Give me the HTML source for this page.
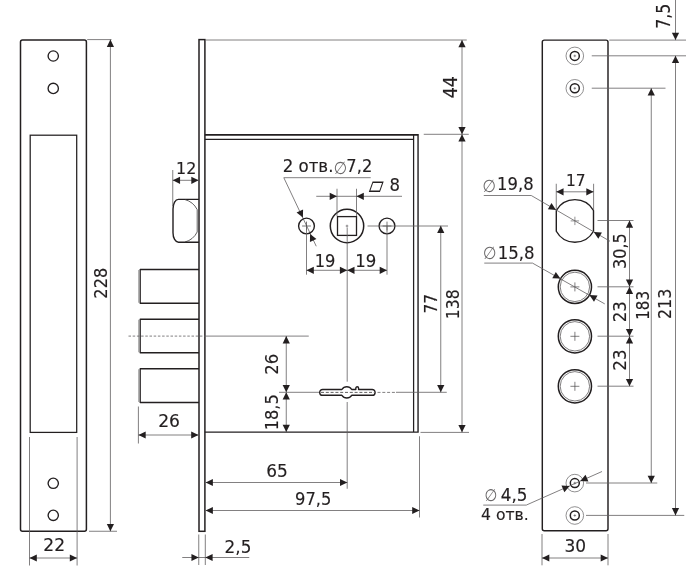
<!DOCTYPE html>
<html lang="ru">
<head>
<meta charset="utf-8">
<title>Схема замка</title>
<style>
html,body{margin:0;padding:0;background:#fff;}
body{width:691px;height:587px;overflow:hidden;}
svg{display:block;will-change:transform;}
svg text{font-family:'DejaVu Sans', 'Liberation Sans', sans-serif;fill:#231f20;stroke:#231f20;stroke-width:0.15px;}
svg text.w{font-family:'DejaVu Sans','Liberation Sans',sans-serif;}
svg text.s{font-family:'DejaVu Sans','Liberation Sans',sans-serif;stroke:none;}
</style>
</head>
<body>
<svg width="691" height="587" viewBox="0 0 691 587">
<rect x="0" y="0" width="691" height="587" fill="#ffffff"/>
<rect x="20.5" y="40" width="65.9" height="491.2" rx="2" fill="none" stroke="#231f20" stroke-width="1.5"/>
<rect x="30.2" y="135.2" width="46.5" height="297.2" rx="0" fill="none" stroke="#231f20" stroke-width="1.25"/>
<circle cx="53.25" cy="56" r="5.15" fill="none" stroke="#231f20" stroke-width="1.35"/>
<circle cx="53.25" cy="88.4" r="5.15" fill="none" stroke="#231f20" stroke-width="1.35"/>
<circle cx="53.25" cy="483.3" r="5.15" fill="none" stroke="#231f20" stroke-width="1.35"/>
<circle cx="53.25" cy="515.3" r="5.15" fill="none" stroke="#231f20" stroke-width="1.35"/>
<line x1="29.5" y1="437" x2="29.5" y2="565.5" stroke="#626061" stroke-width="0.8"/>
<line x1="77.1" y1="437" x2="77.1" y2="565.5" stroke="#626061" stroke-width="0.8"/>
<line x1="29.5" y1="558" x2="77.1" y2="558" stroke="#626061" stroke-width="0.8"/>
<polygon points="29.50,558.00 36.80,554.40 36.80,561.60" fill="#231f20"/>
<polygon points="77.10,558.00 69.80,561.60 69.80,554.40" fill="#231f20"/>
<text transform="translate(43.29 551.00) scale(0.9408 1)" font-size="18.2">22</text>
<line x1="87.2" y1="39.6" x2="111.5" y2="39.6" stroke="#626061" stroke-width="0.8"/>
<line x1="89" y1="531.25" x2="117" y2="531.25" stroke="#626061" stroke-width="0.8"/>
<line x1="110.4" y1="39.6" x2="110.4" y2="531.2" stroke="#626061" stroke-width="0.8"/>
<polygon points="110.40,39.60 114.00,46.90 106.80,46.90" fill="#231f20"/>
<polygon points="110.40,531.20 106.80,523.90 114.00,523.90" fill="#231f20"/>
<text transform="translate(107.20 298.64) rotate(-90) scale(0.8878 1)" font-size="18.2">228</text>
<rect x="199" y="39.6" width="5.9" height="491.7" rx="0" fill="none" stroke="#231f20" stroke-width="1.5"/>
<path d="M204.9 134.85 H418.05" fill="none" stroke="#231f20" stroke-width="1.7" stroke-linejoin="miter"/>
<path d="M418.05 134 V432.1 H204.9" fill="none" stroke="#231f20" stroke-width="1.4" stroke-linejoin="miter"/>
<path d="M204.9 139.3 H413.6 M413.6 134.85 V432.1" fill="none" stroke="#231f20" stroke-width="1.25" stroke-linejoin="miter"/>
<path d="M199 199.4 H178.4 A5.4 9.5 0 0 0 173 208.9 V232.7 A5.4 9.5 0 0 0 178.4 242.2 H199" fill="none" stroke="#231f20" stroke-width="1.4" stroke-linejoin="round"/>
<path d="M185 199.6 Q193.2 201.8 197.2 209.6 V232 Q193.2 239.8 185 242" fill="none" stroke="#3a3839" stroke-width="0.8" stroke-linejoin="round"/>
<path d="M199 269.5 H140.2 V303.25 H199" fill="none" stroke="#231f20" stroke-width="1.3" stroke-linejoin="round"/>
<line x1="138.7" y1="270.0" x2="138.7" y2="302.75" stroke="#777" stroke-width="0.7"/>
<path d="M199 319.25 H140.2 V352.75 H199" fill="none" stroke="#231f20" stroke-width="1.3" stroke-linejoin="round"/>
<line x1="138.7" y1="319.75" x2="138.7" y2="352.25" stroke="#777" stroke-width="0.7"/>
<path d="M199 368.75 H140.2 V402.5 H199" fill="none" stroke="#231f20" stroke-width="1.3" stroke-linejoin="round"/>
<line x1="138.7" y1="369.25" x2="138.7" y2="402.0" stroke="#777" stroke-width="0.7"/>
<line x1="128.5" y1="336.1" x2="204.9" y2="336.1" stroke="#626061" stroke-width="0.8" stroke-dasharray="2.5 1.7"/>
<line x1="204.9" y1="336.1" x2="308.75" y2="336.1" stroke="#626061" stroke-width="0.8"/>
<line x1="172.75" y1="170" x2="172.75" y2="206" stroke="#626061" stroke-width="0.8"/>
<line x1="172.75" y1="180.3" x2="198.6" y2="180.3" stroke="#626061" stroke-width="0.8"/>
<polygon points="172.75,180.30 180.05,176.70 180.05,183.90" fill="#231f20"/>
<polygon points="198.60,180.30 191.30,183.90 191.30,176.70" fill="#231f20"/>
<text transform="translate(176.08 174.00) scale(0.9634 1)" font-size="16.5">12</text>
<line x1="138.4" y1="406.5" x2="138.4" y2="443.5" stroke="#626061" stroke-width="0.8"/>
<line x1="138.4" y1="435" x2="198.5" y2="435" stroke="#626061" stroke-width="0.8"/>
<polygon points="138.40,435.00 145.70,431.40 145.70,438.60" fill="#231f20"/>
<polygon points="198.50,435.00 191.20,438.60 191.20,431.40" fill="#231f20"/>
<text transform="translate(158.19 427.00) scale(0.9416 1)" font-size="18.2">26</text>
<text transform="translate(282.63 172.30) scale(0.9457 1)" font-size="17.6">2 отв.</text>
<text transform="translate(346.37 172.30) scale(0.9248 1)" font-size="17.6">7,2</text>
<text class="s" transform="translate(333.74 173.63) scale(0.7642 0.8614)" font-size="20" style="fill:#6a6869">∅</text>
<line x1="283.8" y1="177.7" x2="370.7" y2="177.7" stroke="#626061" stroke-width="0.8"/>
<line x1="283.8" y1="177.7" x2="316.25" y2="246.25" stroke="#626061" stroke-width="0.8"/>
<polygon points="302.90,217.60 296.55,212.51 303.08,209.46" fill="#231f20"/>
<polygon points="310.10,233.90 316.45,238.99 309.92,242.04" fill="#231f20"/>
<circle cx="306.5" cy="226" r="7.9" fill="none" stroke="#231f20" stroke-width="1.4"/>
<circle cx="387" cy="226" r="7.9" fill="none" stroke="#231f20" stroke-width="1.4"/>
<line x1="302.1" y1="226" x2="310.9" y2="226" stroke="#4a4849" stroke-width="0.75"/>
<line x1="306.5" y1="221.6" x2="306.5" y2="230.4" stroke="#4a4849" stroke-width="0.75"/>
<line x1="382.6" y1="226" x2="391.4" y2="226" stroke="#4a4849" stroke-width="0.75"/>
<line x1="387" y1="221.6" x2="387" y2="230.4" stroke="#4a4849" stroke-width="0.75"/>
<circle cx="347" cy="226" r="16.7" fill="none" stroke="#231f20" stroke-width="1.5"/>
<rect x="337.5" y="216.6" width="19.0" height="18.8" rx="0" fill="none" stroke="#231f20" stroke-width="1.3"/>
<line x1="345.7" y1="226" x2="348.3" y2="226" stroke="#4a4849" stroke-width="0.6"/>
<line x1="347" y1="224.7" x2="347" y2="227.3" stroke="#4a4849" stroke-width="0.6"/>
<line x1="337" y1="188.75" x2="337" y2="216" stroke="#626061" stroke-width="0.8"/>
<line x1="356.5" y1="188.75" x2="356.5" y2="216" stroke="#626061" stroke-width="0.8"/>
<line x1="316.25" y1="196.3" x2="402" y2="196.3" stroke="#626061" stroke-width="0.8"/>
<polygon points="337.00,196.30 329.70,199.90 329.70,192.70" fill="#231f20"/>
<polygon points="356.50,196.30 363.80,192.70 363.80,199.90" fill="#231f20"/>
<text class="s" transform="translate(368.84 193.88) scale(0.9762 1.3816)" font-size="20" style="fill:#231f20">▱</text>
<text transform="translate(389.50 190.80) scale(0.9726 1)" font-size="17">8</text>
<line x1="367.5" y1="226" x2="448" y2="226" stroke="#626061" stroke-width="0.8"/>
<line x1="306.5" y1="226" x2="306.5" y2="274.7" stroke="#626061" stroke-width="0.8"/>
<line x1="387" y1="226" x2="387" y2="274.7" stroke="#626061" stroke-width="0.8"/>
<line x1="347.2" y1="227.5" x2="347.2" y2="381.7" stroke="#626061" stroke-width="0.8"/>
<line x1="347.2" y1="402" x2="347.2" y2="488.75" stroke="#626061" stroke-width="0.8"/>
<line x1="306.5" y1="270.3" x2="347.2" y2="270.3" stroke="#626061" stroke-width="0.8"/>
<polygon points="306.50,270.30 313.80,266.70 313.80,273.90" fill="#231f20"/>
<polygon points="347.20,270.30 339.90,273.90 339.90,266.70" fill="#231f20"/>
<line x1="347.2" y1="270.3" x2="387" y2="270.3" stroke="#626061" stroke-width="0.8"/>
<polygon points="347.20,270.30 354.50,266.70 354.50,273.90" fill="#231f20"/>
<polygon points="387.00,270.30 379.70,273.90 379.70,266.70" fill="#231f20"/>
<text transform="translate(314.68 267.10) scale(0.9413 1)" font-size="17.3">19</text>
<text transform="translate(355.25 267.10) scale(0.9572 1)" font-size="17.3">19</text>
<line x1="286.25" y1="336.1" x2="286.25" y2="392.3" stroke="#626061" stroke-width="0.8"/>
<polygon points="286.25,336.10 289.85,343.40 282.65,343.40" fill="#231f20"/>
<polygon points="286.25,392.30 282.65,385.00 289.85,385.00" fill="#231f20"/>
<line x1="286.25" y1="392.3" x2="286.25" y2="432" stroke="#626061" stroke-width="0.8"/>
<polygon points="286.25,392.30 289.85,399.60 282.65,399.60" fill="#231f20"/>
<polygon points="286.25,432.00 282.65,424.70 289.85,424.70" fill="#231f20"/>
<text transform="translate(278.40 374.76) rotate(-90) scale(0.9028 1)" font-size="18.2">26</text>
<text transform="translate(277.50 430.31) rotate(-90) scale(0.8891 1)" font-size="18.2">18,5</text>
<line x1="279" y1="392.3" x2="319.3" y2="392.3" stroke="#626061" stroke-width="0.8"/>
<line x1="321" y1="392.4" x2="374" y2="392.4" stroke="#3a3839" stroke-width="0.8" stroke-dasharray="3 1.8"/>
<line x1="377.5" y1="392.4" x2="396" y2="392.4" stroke="#626061" stroke-width="0.8" stroke-dasharray="3 1.8"/>
<line x1="396" y1="392.3" x2="446.75" y2="392.3" stroke="#626061" stroke-width="0.8"/>
<path d="M322.6 389.5 H341.9 A5.8 5.8 0 0 1 351.7 389.5 H355.8 V388.2 A1.4 1.4 0 0 1 358.6 388.2 V389.5 H372.2 A2.9 2.9 0 0 1 372.2 395.3 H351.7 A5.8 5.8 0 0 1 341.9 395.3 H322.6 A2.9 2.9 0 0 1 322.6 389.5 Z" fill="none" stroke="#231f20" stroke-width="1.4" stroke-linejoin="round"/>
<line x1="205.6" y1="482.5" x2="347.3" y2="482.5" stroke="#626061" stroke-width="0.8"/>
<polygon points="205.60,482.50 212.90,478.90 212.90,486.10" fill="#231f20"/>
<polygon points="347.30,482.50 340.00,486.10 340.00,478.90" fill="#231f20"/>
<text transform="translate(266.19 476.80) scale(0.9338 1)" font-size="18.2">65</text>
<line x1="419.5" y1="436.25" x2="419.5" y2="517.5" stroke="#626061" stroke-width="0.8"/>
<line x1="205.6" y1="510.5" x2="419.5" y2="510.5" stroke="#626061" stroke-width="0.8"/>
<polygon points="205.60,510.50 212.90,506.90 212.90,514.10" fill="#231f20"/>
<polygon points="419.50,510.50 412.20,514.10 412.20,506.90" fill="#231f20"/>
<text transform="translate(295.01 505.00) scale(0.8963 1)" font-size="18.2">97,5</text>
<line x1="198.75" y1="534.5" x2="198.75" y2="565" stroke="#626061" stroke-width="0.8"/>
<line x1="205.3" y1="534.5" x2="205.3" y2="565" stroke="#626061" stroke-width="0.8"/>
<line x1="182.25" y1="557.5" x2="249.25" y2="557.5" stroke="#626061" stroke-width="0.8"/>
<polygon points="198.75,557.50 191.45,561.10 191.45,553.90" fill="#231f20"/>
<polygon points="205.30,557.50 212.60,553.90 212.60,561.10" fill="#231f20"/>
<text transform="translate(224.61 552.50) scale(0.9241 1)" font-size="18.2">2,5</text>
<line x1="205.4" y1="40" x2="466.75" y2="40" stroke="#626061" stroke-width="0.8"/>
<line x1="423.75" y1="134.3" x2="468.75" y2="134.3" stroke="#626061" stroke-width="0.8"/>
<line x1="420.5" y1="432.4" x2="469" y2="432.4" stroke="#626061" stroke-width="0.8"/>
<line x1="462" y1="40" x2="462" y2="134.3" stroke="#626061" stroke-width="0.8"/>
<polygon points="462.00,40.00 465.60,47.30 458.40,47.30" fill="#231f20"/>
<polygon points="462.00,134.30 458.40,127.00 465.60,127.00" fill="#231f20"/>
<line x1="462" y1="134.3" x2="462" y2="432.3" stroke="#626061" stroke-width="0.8"/>
<polygon points="462.00,134.30 465.60,141.60 458.40,141.60" fill="#231f20"/>
<polygon points="462.00,432.30 458.40,425.00 465.60,425.00" fill="#231f20"/>
<line x1="440.75" y1="225.75" x2="440.75" y2="392.3" stroke="#626061" stroke-width="0.8"/>
<polygon points="440.75,225.75 444.35,233.05 437.15,233.05" fill="#231f20"/>
<polygon points="440.75,392.30 437.15,385.00 444.35,385.00" fill="#231f20"/>
<text transform="translate(456.90 98.30) rotate(-90) scale(0.9098 1)" font-size="19.2">44</text>
<text transform="translate(436.80 313.44) rotate(-90) scale(0.8378 1)" font-size="18.2">77</text>
<text transform="translate(459.30 319.14) rotate(-90) scale(0.8566 1)" font-size="18.2">138</text>
<rect x="542.3" y="40.1" width="65.7" height="490.7" rx="2" fill="none" stroke="#231f20" stroke-width="1.45"/>
<circle cx="574.8" cy="55.9" r="8.8" fill="none" stroke="#626061" stroke-width="0.7"/>
<circle cx="574.8" cy="55.9" r="4.5" fill="none" stroke="#231f20" stroke-width="1.5"/>
<line x1="573.5" y1="55.9" x2="576.0999999999999" y2="55.9" stroke="#4a4849" stroke-width="0.6"/>
<line x1="574.8" y1="54.6" x2="574.8" y2="57.199999999999996" stroke="#4a4849" stroke-width="0.6"/>
<circle cx="574.8" cy="88.3" r="8.8" fill="none" stroke="#626061" stroke-width="0.7"/>
<circle cx="574.8" cy="88.3" r="4.5" fill="none" stroke="#231f20" stroke-width="1.5"/>
<line x1="573.5" y1="88.3" x2="576.0999999999999" y2="88.3" stroke="#4a4849" stroke-width="0.6"/>
<line x1="574.8" y1="87.0" x2="574.8" y2="89.6" stroke="#4a4849" stroke-width="0.6"/>
<circle cx="574.8" cy="483.1" r="8.8" fill="none" stroke="#626061" stroke-width="0.7"/>
<circle cx="574.8" cy="483.1" r="4.5" fill="none" stroke="#231f20" stroke-width="1.5"/>
<line x1="573.5" y1="483.1" x2="576.0999999999999" y2="483.1" stroke="#4a4849" stroke-width="0.6"/>
<line x1="574.8" y1="481.8" x2="574.8" y2="484.40000000000003" stroke="#4a4849" stroke-width="0.6"/>
<circle cx="574.8" cy="515.5" r="8.8" fill="none" stroke="#626061" stroke-width="0.7"/>
<circle cx="574.8" cy="515.5" r="4.5" fill="none" stroke="#231f20" stroke-width="1.5"/>
<line x1="573.5" y1="515.5" x2="576.0999999999999" y2="515.5" stroke="#4a4849" stroke-width="0.6"/>
<line x1="574.8" y1="514.2" x2="574.8" y2="516.8" stroke="#4a4849" stroke-width="0.6"/>
<path d="M556.3 210.52 A21.3 21.3 0 0 1 593.5 210.52 V231.28 A21.3 21.3 0 0 1 556.3 231.28 Z" fill="none" stroke="#231f20" stroke-width="1.4" stroke-linejoin="round"/>
<line x1="570.6999999999999" y1="220.9" x2="579.1" y2="220.9" stroke="#4a4849" stroke-width="0.6"/>
<line x1="574.9" y1="216.70000000000002" x2="574.9" y2="225.1" stroke="#4a4849" stroke-width="0.6"/>
<circle cx="574.9" cy="286.9" r="16.6" fill="none" stroke="#231f20" stroke-width="1.5"/>
<circle cx="574.9" cy="286.9" r="14.7" fill="none" stroke="#4a4849" stroke-width="0.7"/>
<line x1="570.4" y1="286.9" x2="579.4" y2="286.9" stroke="#4a4849" stroke-width="0.7"/>
<line x1="574.9" y1="282.4" x2="574.9" y2="291.4" stroke="#4a4849" stroke-width="0.7"/>
<circle cx="574.9" cy="336.3" r="16.6" fill="none" stroke="#231f20" stroke-width="1.5"/>
<circle cx="574.9" cy="336.3" r="14.7" fill="none" stroke="#4a4849" stroke-width="0.7"/>
<line x1="570.4" y1="336.3" x2="579.4" y2="336.3" stroke="#4a4849" stroke-width="0.7"/>
<line x1="574.9" y1="331.8" x2="574.9" y2="340.8" stroke="#4a4849" stroke-width="0.7"/>
<circle cx="574.9" cy="386.3" r="16.6" fill="none" stroke="#231f20" stroke-width="1.5"/>
<circle cx="574.9" cy="386.3" r="14.7" fill="none" stroke="#4a4849" stroke-width="0.7"/>
<line x1="570.4" y1="386.3" x2="579.4" y2="386.3" stroke="#4a4849" stroke-width="0.7"/>
<line x1="574.9" y1="381.8" x2="574.9" y2="390.8" stroke="#4a4849" stroke-width="0.7"/>
<line x1="556.25" y1="183.75" x2="556.25" y2="210" stroke="#626061" stroke-width="0.8"/>
<line x1="593.6" y1="183.75" x2="593.6" y2="210" stroke="#626061" stroke-width="0.8"/>
<line x1="556.25" y1="191.8" x2="593.6" y2="191.8" stroke="#626061" stroke-width="0.8"/>
<polygon points="556.25,191.80 563.55,188.20 563.55,195.40" fill="#231f20"/>
<polygon points="593.60,191.80 586.30,195.40 586.30,188.20" fill="#231f20"/>
<text transform="translate(565.88 185.80) scale(0.9359 1)" font-size="16.5">17</text>
<text class="s" transform="translate(482.52 191.63) scale(0.7781 0.8753)" font-size="20" style="fill:#6a6869">∅</text>
<text transform="translate(497.07 190.30) scale(0.9656 1)" font-size="17">19,8</text>
<line x1="483.75" y1="195.5" x2="531.25" y2="195.5" stroke="#626061" stroke-width="0.8"/>
<line x1="531.25" y1="195.5" x2="610" y2="241.25" stroke="#626061" stroke-width="0.8"/>
<polygon points="556.00,209.90 547.88,209.35 551.50,203.12" fill="#231f20"/>
<polygon points="593.80,231.90 601.92,232.45 598.30,238.68" fill="#231f20"/>
<text class="s" transform="translate(483.02 259.33) scale(0.7781 0.8753)" font-size="20" style="fill:#6a6869">∅</text>
<text transform="translate(497.75 258.70) scale(0.9742 1)" font-size="17">15,8</text>
<line x1="484.25" y1="263.1" x2="532.5" y2="263.1" stroke="#626061" stroke-width="0.8"/>
<line x1="532.5" y1="263.1" x2="604.75" y2="303.9" stroke="#626061" stroke-width="0.8"/>
<polygon points="560.40,278.60 552.27,278.15 555.81,271.88" fill="#231f20"/>
<polygon points="589.40,295.10 597.53,295.55 593.99,301.82" fill="#231f20"/>
<text class="s" transform="translate(484.59 500.74) scale(0.7364 0.8336)" font-size="20" style="fill:#6a6869">∅</text>
<text transform="translate(500.73 500.60) scale(1.0002 1)" font-size="16.8">4,5</text>
<line x1="483.25" y1="505.1" x2="526.25" y2="505.1" stroke="#626061" stroke-width="0.8"/>
<line x1="526.25" y1="505.1" x2="602" y2="471.5" stroke="#626061" stroke-width="0.8"/>
<polygon points="569.60,485.90 564.39,492.15 561.47,485.57" fill="#231f20"/>
<polygon points="580.30,481.10 585.51,474.85 588.43,481.43" fill="#231f20"/>
<text transform="translate(481.09 519.70) scale(1.0002 1)" font-size="15.6">4 отв.</text>
<line x1="609.25" y1="40.1" x2="686" y2="40.1" stroke="#626061" stroke-width="0.8"/>
<line x1="591.75" y1="55.8" x2="686" y2="55.8" stroke="#626061" stroke-width="0.8"/>
<line x1="591.75" y1="88.2" x2="665.5" y2="88.2" stroke="#626061" stroke-width="0.8"/>
<line x1="597.5" y1="220.5" x2="633.5" y2="220.5" stroke="#626061" stroke-width="0.8"/>
<line x1="597.5" y1="286.8" x2="633.5" y2="286.8" stroke="#626061" stroke-width="0.8"/>
<line x1="597.5" y1="336.2" x2="633.5" y2="336.2" stroke="#626061" stroke-width="0.8"/>
<line x1="597.5" y1="386.2" x2="633.5" y2="386.2" stroke="#626061" stroke-width="0.8"/>
<line x1="586" y1="483" x2="657.25" y2="483" stroke="#626061" stroke-width="0.8"/>
<line x1="586" y1="515.4" x2="684.25" y2="515.4" stroke="#626061" stroke-width="0.8"/>
<line x1="675.5" y1="0" x2="675.5" y2="40.1" stroke="#626061" stroke-width="0.8"/>
<polygon points="675.50,40.10 671.90,32.80 679.10,32.80" fill="#231f20"/>
<line x1="675.5" y1="55.8" x2="675.5" y2="515.4" stroke="#626061" stroke-width="0.8"/>
<polygon points="675.50,55.80 679.10,63.10 671.90,63.10" fill="#231f20"/>
<polygon points="675.50,515.40 671.90,508.10 679.10,508.10" fill="#231f20"/>
<line x1="651.25" y1="88.2" x2="651.25" y2="483" stroke="#626061" stroke-width="0.8"/>
<polygon points="651.25,88.20 654.85,95.50 647.65,95.50" fill="#231f20"/>
<polygon points="651.25,483.00 647.65,475.70 654.85,475.70" fill="#231f20"/>
<line x1="629.5" y1="220.5" x2="629.5" y2="286.8" stroke="#626061" stroke-width="0.8"/>
<polygon points="629.50,220.50 633.10,227.80 625.90,227.80" fill="#231f20"/>
<polygon points="629.50,286.80 625.90,279.50 633.10,279.50" fill="#231f20"/>
<line x1="629.5" y1="286.8" x2="629.5" y2="336.2" stroke="#626061" stroke-width="0.8"/>
<polygon points="629.50,286.80 633.10,294.10 625.90,294.10" fill="#231f20"/>
<polygon points="629.50,336.20 625.90,328.90 633.10,328.90" fill="#231f20"/>
<line x1="629.5" y1="336.2" x2="629.5" y2="386.2" stroke="#626061" stroke-width="0.8"/>
<polygon points="629.50,336.20 633.10,343.50 625.90,343.50" fill="#231f20"/>
<polygon points="629.50,386.20 625.90,378.90 633.10,378.90" fill="#231f20"/>
<text transform="translate(669.70 28.79) rotate(-90) scale(0.8292 1)" font-size="19">7,5</text>
<text transform="translate(625.80 268.88) rotate(-90) scale(0.8807 1)" font-size="18.2">30,5</text>
<text transform="translate(625.80 322.37) rotate(-90) scale(0.9141 1)" font-size="18.2">23</text>
<text transform="translate(625.80 370.68) rotate(-90) scale(0.9166 1)" font-size="18.2">23</text>
<text transform="translate(648.60 319.79) rotate(-90) scale(0.8322 1)" font-size="18.2">183</text>
<text transform="translate(671.20 319.12) rotate(-90) scale(0.8751 1)" font-size="18.2">213</text>
<line x1="542" y1="534" x2="542" y2="565.3" stroke="#626061" stroke-width="0.8"/>
<line x1="608" y1="534" x2="608" y2="565.3" stroke="#626061" stroke-width="0.8"/>
<line x1="542" y1="558" x2="608" y2="558" stroke="#626061" stroke-width="0.8"/>
<polygon points="542.00,558.00 549.30,554.40 549.30,561.60" fill="#231f20"/>
<polygon points="608.00,558.00 600.70,561.60 600.70,554.40" fill="#231f20"/>
<text transform="translate(564.40 551.60) scale(0.9360 1)" font-size="18.2">30</text>
</svg>
</body>
</html>
